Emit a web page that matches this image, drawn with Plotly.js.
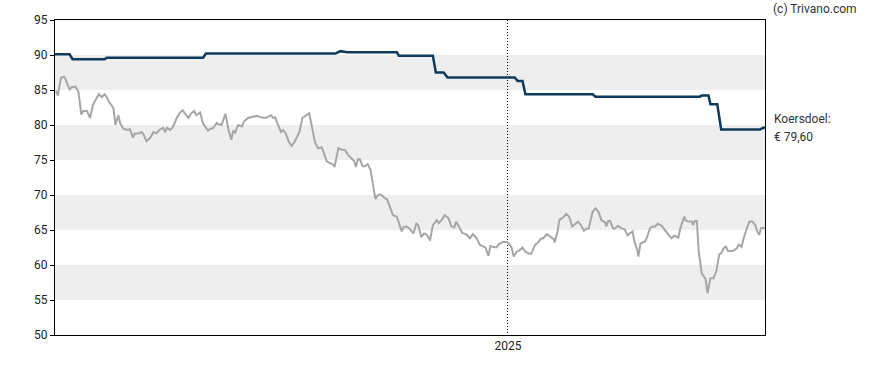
<!DOCTYPE html>
<html>
<head>
<meta charset="utf-8">
<script src="https://cdn.plot.ly/plotly-3.0.1.min.js"></script>
<style>html,body{margin:0;padding:0;background:#fff;}#chart{width:888px;height:370px;}</style>
</head>
<body>
<div id="chart"></div>
<script>
var priceDates = [
"2023-09-25","2023-09-27","2023-09-30","2023-10-03","2023-10-04","2023-10-07","2023-10-09","2023-10-11","2023-10-15","2023-10-16",
"2023-10-18","2023-10-21","2023-10-23","2023-10-27","2023-10-28","2023-10-30","2023-11-02","2023-11-06","2023-11-08","2023-11-11",
"2023-11-14","2023-11-16","2023-11-19","2023-11-23","2023-11-25","2023-11-28","2023-11-30","2023-12-03","2023-12-07","2023-12-10",
"2023-12-13","2023-12-15","2023-12-19","2023-12-22","2023-12-24","2023-12-27","2023-12-31","2024-01-03","2024-01-06","2024-01-10",
"2024-01-13","2024-01-15","2024-01-17","2024-01-20","2024-01-23","2024-01-27","2024-01-30","2024-02-02","2024-02-04","2024-02-08",
"2024-02-11","2024-02-14","2024-02-16","2024-02-20","2024-02-23","2024-02-28","2024-03-02","2024-03-04","2024-03-08","2024-03-10",
"2024-03-13","2024-03-17","2024-03-20","2024-03-23","2024-03-25","2024-03-27","2024-03-30","2024-04-03","2024-04-05","2024-04-09",
"2024-04-15","2024-04-19","2024-04-22","2024-04-27","2024-04-30","2024-05-03","2024-05-05","2024-05-07","2024-05-10","2024-05-13",
"2024-05-15","2024-05-18","2024-05-21","2024-05-24","2024-05-27","2024-06-01","2024-06-04","2024-06-07","2024-06-11","2024-06-13",
"2024-06-17","2024-06-20","2024-06-24","2024-06-26","2024-06-29","2024-07-02","2024-07-06","2024-07-07","2024-07-11","2024-07-14",
"2024-07-18","2024-07-21","2024-07-25","2024-07-27","2024-07-29","2024-07-31","2024-08-02","2024-08-05","2024-08-07","2024-08-10",
"2024-08-13","2024-08-15","2024-08-18","2024-08-20","2024-08-22","2024-08-25","2024-08-28","2024-08-30","2024-09-02","2024-09-05",
"2024-09-09","2024-09-11","2024-09-14","2024-09-16","2024-09-19","2024-09-22","2024-09-26","2024-09-29","2024-10-01","2024-10-04",
"2024-10-07","2024-10-10","2024-10-13","2024-10-16","2024-10-20","2024-10-22","2024-10-25","2024-10-28","2024-11-01","2024-11-04",
"2024-11-07","2024-11-09","2024-11-12","2024-11-15","2024-11-20","2024-11-23","2024-11-26","2024-11-30","2024-12-03","2024-12-07",
"2024-12-09","2024-12-12","2024-12-14","2024-12-16","2024-12-20","2024-12-23","2024-12-27","2024-12-31","2025-01-03","2025-01-05",
"2025-01-07","2025-01-10","2025-01-13","2025-01-16","2025-01-19","2025-01-23","2025-01-25","2025-01-29","2025-02-01","2025-02-04",
"2025-02-06","2025-02-10","2025-02-13","2025-02-17","2025-02-18","2025-02-21","2025-02-23","2025-02-26","2025-03-02","2025-03-05",
"2025-03-08","2025-03-11","2025-03-14","2025-03-17","2025-03-20","2025-03-23","2025-03-25","2025-03-29","2025-04-01","2025-04-04",
"2025-04-07","2025-04-11","2025-04-12","2025-04-14","2025-04-16","2025-04-19","2025-04-21","2025-04-24","2025-04-28","2025-05-01",
"2025-05-04","2025-05-06","2025-05-09","2025-05-11","2025-05-14","2025-05-15","2025-05-17","2025-05-22","2025-05-24","2025-05-27",
"2025-05-30","2025-06-01","2025-06-04","2025-06-08","2025-06-11","2025-06-15","2025-06-18","2025-06-21","2025-06-25","2025-06-27",
"2025-07-01","2025-07-03","2025-07-06","2025-07-09","2025-07-10","2025-07-12","2025-07-14","2025-07-16","2025-07-19","2025-07-21",
"2025-07-23","2025-07-25","2025-07-27","2025-07-28","2025-07-31","2025-08-03","2025-08-06","2025-08-08","2025-08-11","2025-08-13",
"2025-08-15","2025-08-20","2025-08-24","2025-08-26","2025-08-29","2025-08-31","2025-09-04","2025-09-06","2025-09-09","2025-09-12",
"2025-09-14","2025-09-16","2025-09-18","2025-09-22"
];
var priceValues = [
84.9,84.2,86.7,86.9,86.8,85.7,85.1,85.4,85.5,85.2,
84.8,81.5,82.0,82.0,81.7,81.0,82.9,84.0,84.4,84.0,
84.4,84.0,83.2,82.4,80.0,81.4,80.2,79.5,79.3,79.4,
78.2,78.8,78.8,79.0,78.6,77.7,78.2,79.0,78.8,79.4,
79.6,79.0,79.6,79.3,79.7,81.0,81.7,82.1,81.7,81.0,
81.7,82.0,81.4,81.8,80.2,79.2,79.5,79.5,80.3,80.1,
80.0,81.6,79.4,77.9,79.2,78.9,80.0,79.8,80.5,81.0,
81.2,81.3,81.1,81.0,81.2,81.4,81.0,81.1,80.0,79.0,
79.3,78.8,77.6,77.0,77.6,79.0,81.0,81.3,81.7,80.3,
77.5,76.7,76.8,76.0,74.8,74.6,74.3,74.0,76.7,76.5,
76.4,75.7,75.2,74.9,74.0,75.1,75.1,74.1,74.1,74.4,
73.6,72.1,69.4,69.9,70.1,69.9,69.5,69.4,68.1,67.1,
66.9,66.0,64.8,65.4,65.5,65.2,64.5,65.9,65.7,64.0,
64.5,64.3,63.5,65.7,66.4,66.0,66.4,67.1,66.7,65.5,
65.4,66.2,65.5,64.6,64.3,63.8,64.4,63.8,62.9,62.6,
62.5,61.3,62.7,62.6,62.5,63.0,63.3,63.3,62.9,62.4,
61.2,61.9,62.1,62.5,61.9,61.6,61.6,62.9,63.2,63.8,
63.8,64.4,64.1,63.7,63.2,64.8,66.5,66.7,67.3,66.9,
65.5,65.9,66.2,65.7,64.9,65.2,65.2,67.6,68.1,67.6,
66.4,66.1,65.5,66.3,66.3,65.2,65.2,65.6,65.2,65.1,
64.2,64.5,64.8,63.3,62.1,61.2,63.0,63.4,64.0,65.3,
65.5,65.5,65.9,65.6,65.0,64.3,63.8,64.2,63.9,65.2,
66.9,66.3,66.2,66.2,65.7,66.3,66.3,61.9,58.8,58.3,
58.0,56.0,57.5,58.1,58.1,59.1,61.5,61.7,62.5,62.6,
62.0,62.0,62.4,62.9,62.6,63.8,65.5,66.2,66.2,65.7,
64.8,64.3,65.3,65.3
];
var targetDates = [
"2023-09-24","2023-10-09","2023-10-12","2023-11-14","2023-11-16","2024-02-23","2024-02-26","2024-07-08","2024-07-13","2024-07-18",
"2024-07-20","2024-09-09","2024-09-11","2024-10-16","2024-10-19","2024-10-27","2024-10-31","2025-01-08","2025-01-11","2025-01-16",
"2025-01-19","2025-03-29","2025-04-01","2025-07-17","2025-07-19","2025-07-26","2025-07-28","2025-08-04","2025-08-08","2025-09-17",
"2025-09-20","2025-09-22"
];
var targetValues = [
90.1,90.1,89.4,89.4,89.6,89.6,90.2,90.2,90.55,90.5,
90.4,90.4,89.9,89.9,87.5,87.5,86.8,86.8,86.3,86.3,
84.4,84.4,84.05,84.05,84.2,84.2,82.95,82.95,79.35,79.35,
79.6,79.6
];
var yTicks = [50,55,60,65,70,75,80,85,90,95];
var xTickVals = ["2025-01-01"];
var xTickText = ["2025"];
var bands = [[55,60],[65,70],[75,80],[85,90]];
var targetLabel = "Koersdoel:";
var targetText = "€ 79,60";
var credit = "(c) Trivano.com";

var shapes = bands.map(function(b){
  return {type:'rect', xref:'paper', yref:'y', x0:0, x1:1, y0:b[0], y1:b[1],
          fillcolor:'#eeeeee', line:{width:0}, layer:'below'};
});

var traces = [
  {x: priceDates, y: priceValues, type:'scatter', mode:'lines',
   line:{color:'#a6a6a6', width:2}, hoverinfo:'skip'},
  {x: targetDates, y: targetValues, type:'scatter', mode:'lines',
   line:{color:'#0e3a5b', width:2.5}, hoverinfo:'skip'}
];

var layout = {
  width:888, height:370,
  margin:{l:55, r:123, t:20, b:35, pad:0},
  paper_bgcolor:'#ffffff', plot_bgcolor:'#ffffff',
  showlegend:false,
  font:{family:'Roboto, Arial, sans-serif', size:12, color:'#222'},
  xaxis:{type:'date', range:['2023-09-24','2025-09-22'],
    tickvals:xTickVals, ticktext:xTickText, ticks:'',
    showgrid:true, gridcolor:'#000000', gridwidth:1, griddash:'1px,2px',
    showline:true, linecolor:'#000', linewidth:1, mirror:true,
    zeroline:false, fixedrange:true, tickfont:{size:12, color:'#222'}},
  yaxis:{range:[50,95], tickvals:yTicks, ticks:'outside', ticklen:4, tickcolor:'#000',
    showgrid:false, showline:true, linecolor:'#000', linewidth:1, mirror:true,
    zeroline:false, fixedrange:true, tickfont:{size:12, color:'#222'}},
  shapes: shapes,
  annotations:[
    {xref:'paper', yref:'paper', x:1.009, y:1.035, xanchor:'left', yanchor:'middle',
     text:credit, showarrow:false, font:{size:12, color:'#333'}},
    {xref:'paper', yref:'paper', x:1.010, y:0.685, xanchor:'left', yanchor:'middle',
     text:targetLabel, showarrow:false, font:{size:12, color:'#333'}},
    {xref:'paper', yref:'paper', x:1.010, y:0.6276, xanchor:'left', yanchor:'middle',
     text:targetText, showarrow:false, font:{size:12, color:'#333'}}
  ]
};
Plotly.newPlot('chart', traces, layout, {staticPlot:true, displayModeBar:false});
</script>
</body>
</html>
